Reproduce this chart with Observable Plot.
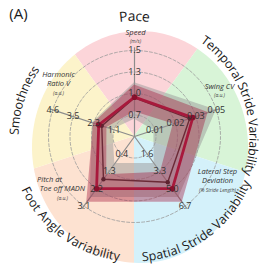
<!DOCTYPE html>
<html><head><meta charset="utf-8">
<script src="https://cdn.jsdelivr.net/npm/d3@7"></script>
<script src="https://cdn.jsdelivr.net/npm/@observablehq/plot@0.6"></script>
<style>body{margin:0;background:#fff} svg{display:block}</style>
</head><body><div id="chart"></div>
<script>
// ---------- data ----------
const groups = ["Pace","Temporal Stride Variability","Spatial Stride Variability","Foot Angle Variability","Smoothness"];
const groupColors = ["#fcd5d9","#d8f4d7","#d4f1fa","#fde2d1","#fcf3ca"];
const axisNames = [["Speed"],["Swing CV"],["Lateral Step","Deviation"],["Pitch at","Toe off MADN"],["Harmonic","Ratio V"]];
const axisUnits = ["(m/s)","(a.u.)","(% Stride Length)","(a.u.)","(a.u.)"];
const tickLabels = [["0.7","1.0","1.3","1.5"],["0.01","0.02","0.03","0.05"],["1.6","3.3","5.0","6.7"],["0.4","1.3","2.2","3.1"],["1.1","2.3","3.5","4.6"]];
const tickValues = [[0.7,1.0,1.3,1.5],[0.01,0.02,0.03,0.05],[1.6,3.3,5.0,6.7],[0.4,1.3,2.2,3.1],[1.1,2.3,3.5,4.6]];
const axisOrigins = [0.4, 0, 0, -0.5, -0.1];

const patientMean = [0.95, 0.0285, 5.0, 2.2, 2.0];
const patientHigh = [1.12, 0.042, 6.33, 2.9, 2.3];
const patientLow  = [0.745, 0.019, 3.39, 1.48, 1.52];
const controlMean = [0.94, 0.027, 4.37, 1.71, 1.82];
const controlHigh = [1.15, 0.05, 5.85, 2.65, 2.37];
const controlLow  = [0.64, 0.0095, 2.54, 0.9, 1.18];

// ---------- layout ----------
const W = 262, H = 266;
const cx = 134, cy = 136, ringPx = 21.5;
const bg = {x: 140, y: 147, rx: 108, ry: 116};
const FONT = '"Open Sans", sans-serif';
const rScale = d3.scaleLinear().domain([0, 4]).range([0, 4 * ringPx]);
const toRing = tickValues.map((t, i) => d3.scaleLinear().domain([axisOrigins[i], ...t]).range([0, 1, 2, 3, 4]));
const rad = d => d * Math.PI / 180;
function pt(i, ring) { const a = rad(i * 72), r = rScale(ring); return [cx + r * Math.sin(a), cy - r * Math.cos(a)]; }
function vpt(i, v) { return pt(i, toRing[i](v)); }

// background wedges clipped by ellipse
function rayEllipse(deg) {
  const a = rad(deg), dx = Math.sin(a), dy = -Math.cos(a);
  const ax = (cx - bg.x) / bg.rx, bx = dx / bg.rx, ay = (cy - bg.y) / bg.ry, by = dy / bg.ry;
  const A = bx*bx + by*by, B = ax*bx + ay*by, C = ax*ax + ay*ay - 1;
  const t = (-B + Math.sqrt(B*B - A*C)) / A;
  return [cx + t*dx, cy + t*dy];
}
const wedgeRows = [];
groups.forEach((g, k) => {
  for (let d = k*72 - 36; d <= k*72 + 36.001; d += 2) {
    const [x, y] = rayEllipse(d);
    wedgeRows.push({g, x, y, x0: cx, y0: cy, c: groupColors[k]});
  }
});

// rings
const ringRows = [];
[1, 2, 3, 4].forEach(k => { for (let d = 0; d <= 360; d += 3) { const a = rad(d), r = rScale(k); ringRows.push({k, x: cx + r*Math.sin(a), y: cy - r*Math.cos(a)}); } });

// axes
const axisRows = groups.map((g, i) => { const [x2, y2] = pt(i, 4.15); return {x1: cx, y1: cy, x2, y2}; });

// bands
function band(lo, hi) {
  return d3.range(6).map(j => { const i = j % 5; const [x1, y1] = vpt(i, lo[i]); const [x2, y2] = vpt(i, hi[i]); return {x1, y1, x2, y2}; });
}
function poly(vals) { return vals.map((v, i) => { const [x, y] = vpt(i, v); return {x, y}; }); }

// tick labels
const tickRows = [];
tickLabels.forEach((labs, i) => labs.forEach((t, k) => { const [x, y] = vpt(i, tickValues[i][k]); tickRows.push({x, y, t}); }));

// axis names
const namePos = [[135, 32], [219, 86], [217, 171], [49, 179], [58, 74]];
const nameRows = [], unitRows = [];
axisNames.forEach((lines, i) => {
  lines.forEach((l, j) => {
    let [x, y] = namePos[i];
    if (i === 3 && j === 1) x = 62;
    nameRows.push({x, y: y + j * 9.5, t: l});
  });
  let [x, y] = namePos[i];
  if (i === 3) x = 62;
  unitRows.push({x, y: y + (lines.length - 1) * 9.5 + 9, t: axisUnits[i]});
});

// curved group titles
const ctx = document.createElement("canvas").getContext("2d");
function arcChars(text, centerDeg, radius, size, bottom) {
  ctx.font = `${size}px "Open Sans"`;
  const total = ctx.measureText(text).width;
  const out = [];
  [...text].forEach((c, k) => {
    const w0 = ctx.measureText(text.slice(0, k)).width, w1 = ctx.measureText(text.slice(0, k + 1)).width;
    const mid = (w0 + w1) / 2 - total / 2;
    const dAng = mid / radius * 180 / Math.PI;
    const ang = bottom ? centerDeg - dAng : centerDeg + dAng;
    const a = rad(ang);
    if (c !== " ") out.push({ch: c, x: cx + radius * Math.sin(a), y: cy - radius * Math.cos(a), rot: bottom ? ang - 180 : ang, size});
  });
  return out;
}
const titleChars = [
  ...arcChars(groups[0], 0, 120, 14, false),
  ...arcChars(groups[1], 72, 119, 12.5, false),
  ...arcChars(groups[2], 144, 121, 12.5, true),
  ...arcChars(groups[3], 216, 121, 12.5, true),
  ...arcChars(groups[4], 288, 120, 12.5, false)
];

const chart = Plot.plot({
  width: W, height: H, margin: 0,
  x: {domain: [0, W], range: [0, W], axis: null},
  y: {domain: [0, H], range: [0, H], axis: null},
  style: {fontFamily: FONT, background: "white"},
  marks: [
    Plot.area(wedgeRows, {x1: "x0", y1: "y0", x2: "x", y2: "y", z: "g", fill: "c"}),
    Plot.line(ringRows, {x: "x", y: "y", z: "k", stroke: "#9a9a9a", strokeWidth: 0.8, strokeDasharray: "3,2"}),
    Plot.link(axisRows, {x1: "x1", y1: "y1", x2: "x2", y2: "y2", stroke: "#8c8c8c", strokeWidth: 1.2}),
    Plot.area(band(controlLow, controlHigh), {x1: "x1", y1: "y1", x2: "x2", y2: "y2", fill: "#999999", fillOpacity: 0.5}),
    Plot.area(band(patientLow, patientHigh), {x1: "x1", y1: "y1", x2: "x2", y2: "y2", fill: "#a3193d", fillOpacity: 0.4}),
    Plot.line(poly(controlMean), {x: "x", y: "y", curve: "linear-closed", stroke: "#6b2a37", strokeWidth: 1.4}),
    Plot.line(poly(patientMean), {x: "x", y: "y", curve: "linear-closed", stroke: "#a8193c", strokeWidth: 2.8}),
    Plot.dot(poly(controlMean), {x: "x", y: "y", r: 2.2, fill: "#5e2330"}),
    Plot.dot(poly(patientMean), {x: "x", y: "y", r: 2.8, fill: "#8a0f2c"}),
    Plot.text(tickRows, {x: "x", y: "y", text: "t", fontSize: 9, fill: "#333"}),
    Plot.text(nameRows, {x: "x", y: "y", text: "t", fontSize: 7.5, fontStyle: "italic", fill: "#333"}),
    Plot.text(unitRows, {x: "x", y: "y", text: "t", fontSize: 5, fontStyle: "italic", fill: "#444"}),
    Plot.text(titleChars, {x: "x", y: "y", text: "ch", rotate: "rot", fontSize: d => d.size, fill: "#1a1a1a"}),
    Plot.text(["(A)"], {x: () => 18, y: () => 14, text: d => d, fontSize: 15, fill: "#1a1a1a"})
  ]
});
document.getElementById("chart").append(chart);
</script>
</body></html>
